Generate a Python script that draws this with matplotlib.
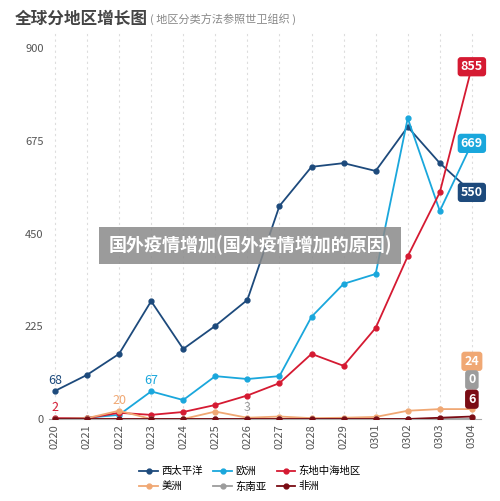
import matplotlib
matplotlib.use("Agg")
import matplotlib.pyplot as plt

plt.rcParams['font.family'] = ['Noto Sans CJK SC', 'DejaVu Sans']

dates = ["0220","0221","0222","0223","0224","0225","0226","0227","0228","0229","0301","0302","0303","0304"]
wpr = [68,107,158,286,170,226,289,517,612,621,602,709,621,550]
eur = [0,3,10,67,46,104,97,104,248,328,352,730,505,669]
emr = [2,2,15,10,17,34,57,87,158,129,221,395,550,855]
amr = [0,2,20,0,0,18,3,6,2,3,5,20,24,24]
sear = [0,0,0,0,0,0,0,0,0,0,0,0,0,0]
afr = [0,0,0,0,0,0,0,0,0,0,0,0,3,6]

names = ["西太平洋","欧洲","东地中海地区","美洲","东南亚","非洲"]
colors = ["#1d4a7c","#1aa7dc","#d51a32","#f0a874","#9c9c9c","#7a0c14"]
series = [wpr, eur, emr, amr, sear, afr]

fig = plt.figure(figsize=(5,5.01), dpi=100)
ax = fig.add_axes([0.097, 0.1637, 0.866, 0.773])
x = range(len(dates))
order = [4,3,5,2,1,0]
for i in order:
    ax.plot(x, series[i], color=colors[i], marker='o', ms=3.5, lw=1.3, label=names[i], zorder=3+i)

ax.set_xlim(-0.2, 13.3)
ax.set_ylim(0, 940)
ax.set_yticks([0,225,450,675,900])
ax.set_xticks(list(x))
ax.set_xticklabels(dates, rotation=90, fontsize=8, color='#555')
ax.tick_params(axis='y', labelsize=8, colors='#555', length=0)
ax.tick_params(axis='x', length=0)
ax.grid(axis='x', ls=(0,(2,3)), color='#ddd', lw=0.8)
for s in ['top','right','left']:
    ax.spines[s].set_visible(False)
ax.spines['bottom'].set_color('#aaa')

ax.annotate("68", (0, wpr[0]), xytext=(0,5), textcoords='offset points', ha='center', fontsize=9, color=colors[0])
ax.annotate("67", (3, eur[3]), xytext=(0,5), textcoords='offset points', ha='center', fontsize=9, color=colors[1])
ax.annotate("20", (2, amr[2]), xytext=(0,5), textcoords='offset points', ha='center', fontsize=9, color=colors[3])
ax.annotate("2", (0, emr[0]), xytext=(0,5), textcoords='offset points', ha='center', fontsize=9, color=colors[2])
ax.annotate("3", (6, amr[6]), xytext=(0,5), textcoords='offset points', ha='center', fontsize=9, color='#999')

ends = [("855", colors[2], 855), ("669", colors[1], 669), ("550", colors[0], 550),
        ("24", colors[3], 140), ("0", colors[4], 95), ("6", colors[5], 48)]
for t, c, ypos in ends:
    ax.text(13.0, ypos, t, ha='center', va='center', fontsize=9, color='white', fontweight='bold',
            bbox=dict(boxstyle='round,pad=0.25', fc=c, ec='none'), zorder=20, clip_on=False)

fig.text(0.03, 0.962, "全球分地区增长图", fontsize=12, fontweight='bold', color='#444', va='center')
fig.text(0.30, 0.962, "( 地区分类方法参照世卫组织 )", fontsize=8, color='#888', va='center')

fig.text(0.5, 0.51, "国外疫情增加(国外疫情增加的原因)", fontsize=13, color='white', fontweight='bold',
         ha='center', va='center', bbox=dict(boxstyle='square,pad=0.5', fc='#8a8a8a', ec='none', alpha=0.85), zorder=30)

h, l = ax.get_legend_handles_labels()
m = dict(zip(l, h))
leg_order = [0,3,1,4,2,5]
fig.legend([m[names[k]] for k in leg_order], [names[k] for k in leg_order], loc='lower center',
           bbox_to_anchor=(0.5, 0.0), ncol=3, fontsize=7.5, frameon=False, handlelength=1.8,
           columnspacing=1.0, handletextpad=0.3)

fig.savefig("out.png", dpi=100)
